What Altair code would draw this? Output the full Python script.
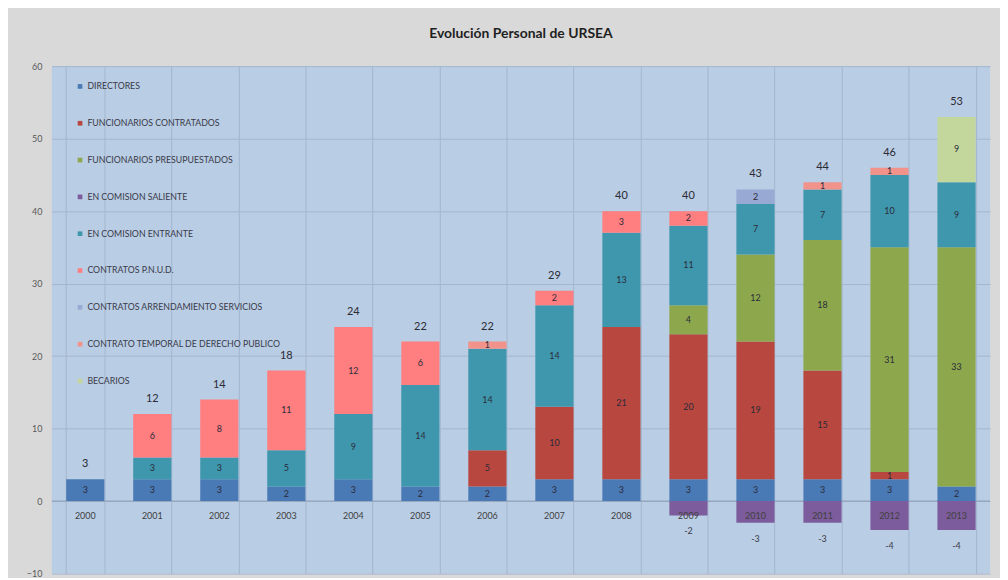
import altair as alt
import pandas as pd

years = ["2000", "2001", "2002", "2003", "2004", "2005", "2006",
         "2007", "2008", "2009", "2010", "2011", "2012", "2013"]
categories = ["DIRECTORES", "FUNCIONARIOS CONTRATADOS", "FUNCIONARIOS PRESUPUESTADOS",
              "EN COMISION SALIENTE", "EN COMISION ENTRANTE", "CONTRATOS P.N.U.D.",
              "CONTRATOS ARRENDAMIENTO SERVICIOS", "CONTRATO TEMPORAL DE DERECHO PUBLICO",
              "BECARIOS"]
directores     = [3, 3, 3, 2, 3, 2, 2, 3, 3, 3, 3, 3, 3, 2]
contratados    = [0, 0, 0, 0, 0, 0, 5, 10, 21, 20, 19, 15, 1, 0]
presupuestados = [0, 0, 0, 0, 0, 0, 0, 0, 0, 4, 12, 18, 31, 33]
saliente       = [0, 0, 0, 0, 0, 0, 0, 0, 0, -2, -3, -3, -4, -4]
entrante       = [0, 3, 3, 5, 9, 14, 14, 14, 13, 11, 7, 7, 10, 9]
pnud           = [0, 6, 8, 11, 12, 6, 0, 2, 3, 2, 0, 0, 0, 0]
arrendamiento  = [0, 0, 0, 0, 0, 0, 0, 0, 0, 0, 2, 0, 0, 0]
temporal       = [0, 0, 0, 0, 0, 0, 1, 0, 0, 0, 0, 1, 1, 0]
becarios       = [0, 0, 0, 0, 0, 0, 0, 0, 0, 0, 0, 0, 0, 9]
colors = ["#4a7ab5", "#b8473f", "#8da84c", "#7c5c9c", "#3f97ad",
          "#ff7e80", "#98a9d4", "#f2938b", "#c3d69b"]

series = [directores, contratados, presupuestados, saliente, entrante,
          pnud, arrendamiento, temporal, becarios]
rows = []
for ci, (cat, vals) in enumerate(zip(categories, series)):
    for y, v in zip(years, vals):
        if v != 0:
            rows.append({"year": y, "cat": cat, "order": ci, "value": v})
df = pd.DataFrame(rows)
year_df = pd.DataFrame({"year": years})
zero_df = pd.DataFrame({"z": [0]})

FONT = "Lato"
xscale = alt.Scale(domain=years, paddingInner=0.43, paddingOuter=0.215)
yscale = alt.Scale(domain=[-10, 60], nice=False, zero=False)
xenc = alt.X("year:N", scale=xscale, title=None,
             axis=alt.Axis(labels=False, ticks=False, domain=False, grid=True,
                           tickBand="extent", gridColor="#a3b6cf", gridWidth=1))

base = alt.Chart(df)
stacked = base.transform_stack(stack="value", groupby=["year"],
                               sort=[alt.SortField("order")], as_=["y0", "y1"])

zero = alt.Chart(zero_df).mark_rule(color="#8c9db3", strokeWidth=1).encode(
    y=alt.Y("z:Q", scale=yscale))

bars = stacked.mark_bar().encode(
    x=xenc,
    y=alt.Y("y0:Q", scale=yscale, title=None,
            axis=alt.Axis(values=[-10, 0, 10, 20, 30, 40, 50, 60], grid=True,
                          gridColor="#a3b6cf", domain=False, ticks=False,
                          labelFontSize=9, labelColor="#595959", labelFont=FONT,
                          labelPadding=10)),
    y2="y1:Q",
    color=alt.Color("cat:N", scale=alt.Scale(domain=categories, range=colors),
                    legend=alt.Legend(title=None, orient="none", legendX=24, legendY=16,
                                      symbolType="square", symbolSize=22,
                                      symbolStrokeWidth=0, labelFontSize=8.8,
                                      labelColor="#3a3a48", labelFont=FONT,
                                      labelLimit=400, rowPadding=27, labelOffset=3)),
    order=alt.Order("order:Q"),
)

seg_labels = stacked.transform_filter("datum.value > 0").transform_calculate(
    mid="(datum.y0 + datum.y1) / 2"
).mark_text(fontSize=9, color="#2b2b3a", font=FONT).encode(
    x="year:N", y="mid:Q", text="value:Q")

neg_labels = stacked.transform_filter("datum.value < 0").transform_calculate(
    lbl="'' + datum.value"
).mark_text(fontSize=9, color="#3a3a48", font=FONT, dy=16).encode(
    x="year:N", y="y1:Q", text="lbl:N")

totals = base.transform_filter("datum.value > 0").transform_aggregate(
    total="sum(value)", groupby=["year"]
).mark_text(fontSize=11, color="#2b2b33", font=FONT, dy=-15).encode(
    x="year:N", y="total:Q", text="total:Q")

year_labels = alt.Chart(year_df).mark_text(
    fontSize=9, color="#404040", font=FONT, dy=15).encode(
    x="year:N", y=alt.datum(0), text="year:N")

chart = alt.layer(zero, bars, seg_labels, neg_labels, totals, year_labels).properties(
    width=943, height=510,
    autosize=alt.AutoSizeParams(type="none"),
    padding={"left": 44, "top": 57, "right": 10, "bottom": 3},
    background="#d9d9d9",
    title=alt.Title("Evolución Personal de URSEA", fontSize=14, font=FONT,
                    fontWeight="bold", color="#1f1f1f", anchor="middle", offset=21),
).configure_view(fill="#b9cde5", stroke=None)

chart.save("out.html", embed_options={"renderer": "svg", "actions": False})
